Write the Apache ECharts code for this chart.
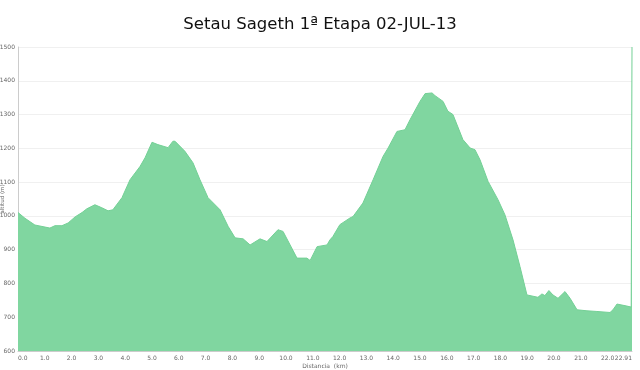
<!DOCTYPE html>
<html>
<head>
<meta charset="utf-8">
<script src="https://cdn.jsdelivr.net/npm/echarts@6/dist/echarts.min.js"></script>
<style>html,body{margin:0;padding:0;background:#fff}#c{width:640px;height:370px}</style>
</head>
<body>
<div id="c"></div>
<script>
const titleText = 'Setau Sageth 1ª Etapa 02-JUL-13';
const xName = 'Distancia  (km)';
const yName = 'altitud (m)';
const distanceKm = [0.00,0.26,0.63,1.19,1.38,1.64,1.87,2.13,2.39,2.57,2.87,3.13,3.36,3.54,3.88,4.18,4.55,4.74,5.00,5.22,5.60,5.78,5.86,6.23,6.53,6.79,7.09,7.54,7.84,8.10,8.40,8.66,9.03,9.29,9.70,9.89,10.41,10.78,10.90,11.16,11.53,11.64,11.75,12.01,12.39,12.50,12.87,13.25,13.62,13.81,14.14,14.44,14.63,15.00,15.19,15.45,15.56,15.86,16.04,16.23,16.60,16.87,17.05,17.24,17.54,17.91,18.17,18.47,18.73,18.99,19.40,19.55,19.66,19.81,19.96,20.15,20.41,20.60,20.86,21.23,21.60,22.09,22.20,22.35,22.72,22.88,22.91];
const altitudeM = [1010,993,973,964,971,971,979,997,1010,1021,1033,1024,1015,1018,1054,1107,1146,1172,1218,1211,1202,1221,1221,1191,1157,1107,1054,1018,969,935,932,914,932,924,959,954,875,875,868,909,914,929,939,974,994,998,1038,1107,1176,1201,1250,1255,1285,1339,1362,1364,1356,1339,1310,1300,1226,1201,1196,1166,1102,1048,1003,929,850,766,759,769,764,779,766,756,776,756,722,719,717,714,722,739,733,730,1500];
const yMin = 600, yMax = 1500, yStep = 100;
const xMin = 0, xMax = 22.91, xStep = 1;

const chart = echarts.init(document.getElementById('c'), null, {renderer:'canvas'});
chart.setOption({
  animation: false,
  title: {
    text: titleText, left: 'center', top: 11,
    textStyle: {fontFamily: 'DejaVu Sans', fontSize: 16.5, fontWeight: 'normal', color: '#111'}
  },
  grid: {left: 18, right: 8, top: 47, bottom: 19, containLabel: false, outerBoundsMode: 'none'},
  xAxis: {
    type: 'value', min: xMin, max: xMax, interval: xStep,
    name: xName, nameLocation: 'middle', nameGap: 12, nameMoveOverlap: false,
    nameTextStyle: {fontSize: 6, color: '#666', fontFamily: 'DejaVu Sans'},
    axisLine: {show: true, lineStyle: {color: '#ccc'}},
    axisTick: {show: false},
    splitLine: {show: false},
    axisLabel: {
      fontSize: 6, color: '#666', margin: 4, fontFamily: 'DejaVu Sans',
      showMinLabel: true, showMaxLabel: true,
      alignMinLabel: 'left', alignMaxLabel: 'right',
      formatter: v => Number.isInteger(v) ? v.toFixed(1) : String(v)
    }
  },
  yAxis: {
    type: 'value', min: yMin, max: yMax, interval: yStep,
    name: yName, nameLocation: 'middle', nameGap: 12, nameRotate: 90, nameMoveOverlap: false,
    nameTextStyle: {fontSize: 5.5, color: '#666', fontFamily: 'DejaVu Sans'},
    axisLine: {show: true, lineStyle: {color: '#ccc'}},
    axisTick: {show: false},
    splitLine: {show: true, lineStyle: {color: '#f0f0f0'}},
    axisLabel: {fontSize: 6, color: '#666', margin: 3, fontFamily: 'DejaVu Sans', formatter: v => String(v)}
  },
  series: [{
    type: 'line',
    data: distanceKm.map((d, i) => [d, altitudeM[i]]),
    showSymbol: false,
    smooth: false,
    lineStyle: {color: '#74d096', width: 1},
    areaStyle: {color: '#80d6a0', opacity: 1},
    clip: true
  }]
});
</script>
</body>
</html>
